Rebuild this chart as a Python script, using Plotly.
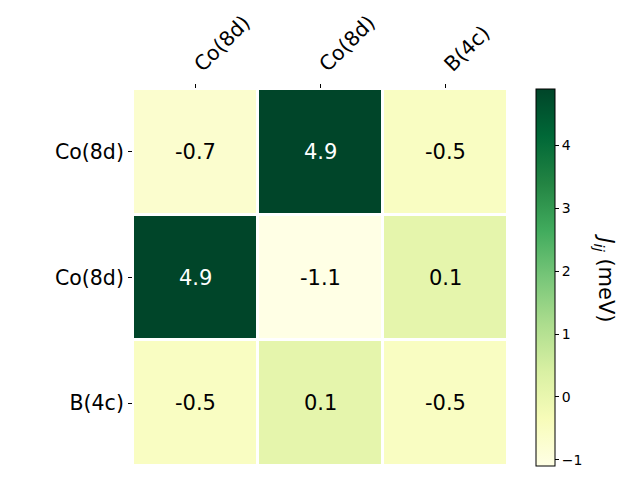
import plotly.graph_objects as go

x_labels = ["Co(8d)", "Co(8d)", "B(4c)"]
y_labels = ["Co(8d)", "Co(8d)", "B(4c)"]
values = [
    [-0.7, 4.9, -0.5],
    [4.9, -1.1, 0.1],
    [-0.5, 0.1, -0.5],
]
cbar_ticks = [-1, 0, 1, 2, 3, 4]

idx = list(range(len(x_labels)))
zmin = min(min(r) for r in values)
zmax = max(max(r) for r in values)

fig = go.Figure(go.Heatmap(
    z=values, x=idx, y=idx,
    colorscale="YlGn", zmin=zmin, zmax=zmax,
    xgap=3, ygap=3,
    colorbar=dict(
        x=1.0747, xanchor="left", y=0.5, yanchor="middle",
        len=1.0, lenmode="fraction", thickness=19, thicknessmode="pixels",
        outlinecolor="black", outlinewidth=1,
        ticks="outside", ticklen=4, tickcolor="black",
        tickvals=cbar_ticks, ticktext=[str(t).replace("-", "\u2212") for t in cbar_ticks],
        tickfont=dict(family="DejaVu Sans", size=14, color="black"),
        xpad=0, ypad=0,
    ),
    hoverinfo="skip",
))

annotations = []
for i, row in enumerate(values):
    for j, v in enumerate(row):
        frac = (v - zmin) / (zmax - zmin)
        annotations.append(dict(
            x=j, y=i, text=f"{v:.1f}", showarrow=False,
            font=dict(family="DejaVu Sans", size=21,
                      color="white" if frac > 0.5 else "black"),
        ))
annotations.append(dict(
    xref="paper", yref="paper", x=1.259, y=0.5, xanchor="center", yanchor="middle",
    text="<i>J</i><sub><i>ij</i></sub> (meV)", textangle=90, showarrow=False,
    font=dict(family="DejaVu Sans", size=21, color="black"),
))

fig.update_layout(
    width=640, height=480,
    margin=dict(l=125, r=140, t=81, b=22, autoexpand=False),
    paper_bgcolor="white", plot_bgcolor="white",
    annotations=annotations,
    xaxis=dict(
        side="top", tickvals=idx, ticktext=x_labels, tickangle=-45,
        ticks="outside", ticklen=4, tickcolor="black", automargin=False,
        tickfont=dict(family="DejaVu Sans", size=20.5, color="black"),
        showgrid=False, zeroline=False, showline=False,
        range=[-0.5, 2.5],
    ),
    yaxis=dict(
        tickvals=idx, ticktext=y_labels, autorange=False, range=[2.5, -0.5],
        ticks="outside", ticklen=4, tickcolor="black", automargin=False,
        tickfont=dict(family="DejaVu Sans", size=20.5, color="black"),
        showgrid=False, zeroline=False, showline=False,
    ),
)

fig.write_html("out.html")
